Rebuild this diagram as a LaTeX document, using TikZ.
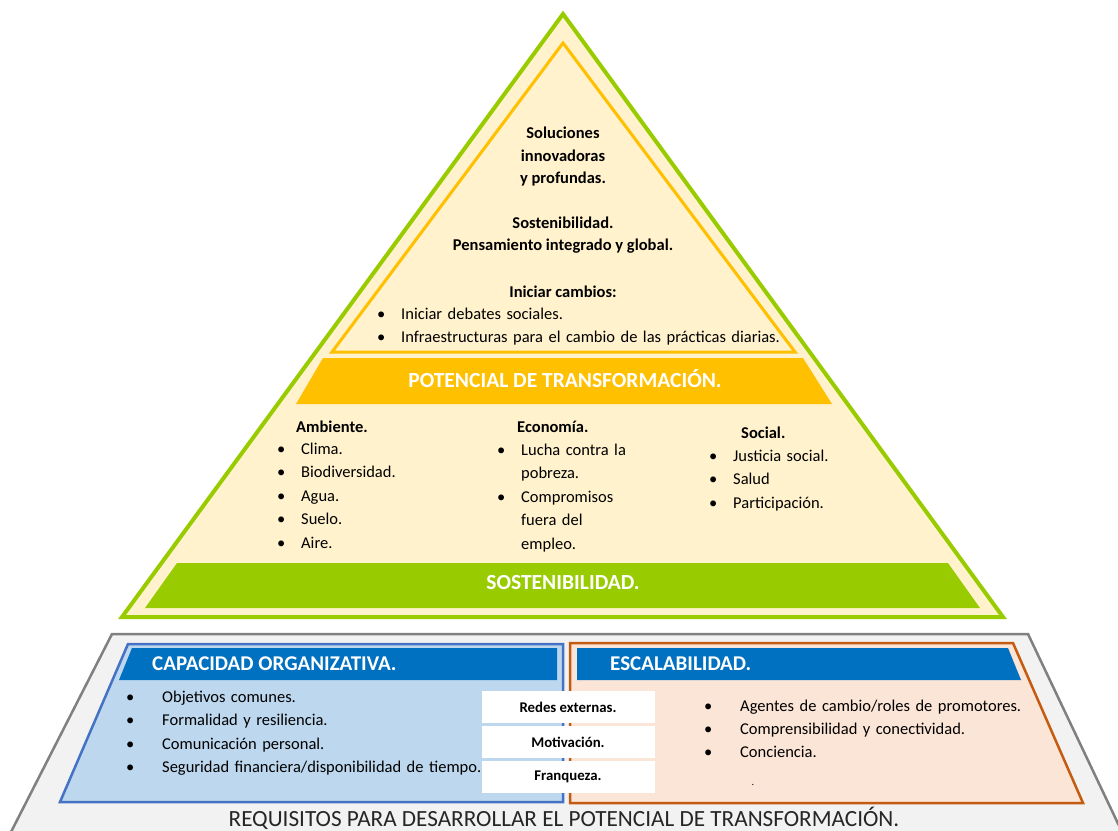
\documentclass[tikz,border=0pt]{standalone}
\usepackage{fontspec}
\setmainfont{Carlito}
\usetikzlibrary{positioning}

\definecolor{pgreen}{HTML}{99CC00}
\definecolor{porange}{HTML}{FFC000}
\definecolor{pcream}{HTML}{FFF2CC}
\definecolor{bfill}{HTML}{BDD7EE}
\definecolor{bline}{HTML}{4472C4}
\definecolor{bhead}{HTML}{0070C0}
\definecolor{ofill}{HTML}{FBE5D6}
\definecolor{oline}{HTML}{C55A11}
\definecolor{gfill}{HTML}{F2F2F2}
\definecolor{gline}{HTML}{808080}

\newcommand{\pxsize}[1]{\fontsize{#1}{#1}\selectfont}
\newcommand{\pbullet}{\makebox[24pt][l]{\textbullet}}
\newcommand{\pgap}{\makebox[24pt][l]{}}

\begin{document}
\begin{tikzpicture}[x=1pt, y=-1pt, every node/.style={inner sep=0pt},
  listitem/.style={text width=#1, align=left, text height=11pt, text depth=3pt, font=\pxsize{16.5}},
  headtext/.style={font=\pxsize{16.5}\bfseries},
  bandtext/.style={text=white, font=\pxsize{21.5}\bfseries},
  boxhead/.style={text=white, font=\pxsize{21}\bfseries, anchor=west},
  tagbox/.style={fill=white, minimum width=173pt, minimum height=32pt, font=\pxsize{14.8}\bfseries}]

\useasboundingbox (0,0) rectangle (1118,830);

% base: requisitos
\fill[gfill] (112,634) -- (1028,634) -- (1123,834) -- (10,834) -- cycle;
\draw[gline, line width=2.5pt] (11,832) -- (112,634) -- (1028,634) -- (1122,832);

\draw[bline, fill=bfill, line width=2.5pt] (128,644) -- (563,644) -- (563,802) -- (60,802) -- cycle;
\fill[bhead] (132,648) -- (557,648) -- (557,680) -- (119,680) -- cycle;
\draw[oline, fill=ofill, line width=2.5pt] (570,643) -- (1013,643) -- (1083,803) -- (570,803) -- cycle;
\fill[bhead] (577,648) -- (1008,648) -- (1021,680) -- (577,680) -- cycle;

\node(cap) [boxhead] at (152,664) {CAPACIDAD ORGANIZATIVA.};
\node(esc) [boxhead] at (610,664) {ESCALABILIDAD.};

\begin{scope}[on grid, node distance=23.5pt]
\node(c1) [listitem=360pt, anchor=west] at (126,698) {\makebox[36pt][l]{\textbullet}Objetivos comunes.};
\node(c2) [listitem=360pt, below=of c1] {\makebox[36pt][l]{\textbullet}Formalidad y resiliencia.};
\node(c3) [listitem=360pt, below=of c2] {\makebox[36pt][l]{\textbullet}Comunicación personal.};
\node(c4) [listitem=360pt, below=of c3] {\makebox[36pt][l]{\textbullet}Seguridad financiera/disponibilidad de tiempo.};
\end{scope}

\begin{scope}[on grid, node distance=23pt]
\node(e1) [listitem=320pt, anchor=west] at (704,707) {\makebox[36pt][l]{\textbullet}Agentes de cambio/roles de promotores.};
\node(e2) [listitem=320pt, below=of e1] {\makebox[36pt][l]{\textbullet}Comprensibilidad y conectividad.};
\node(e3) [listitem=320pt, below=of e2] {\makebox[36pt][l]{\textbullet}Conciencia.};
\end{scope}
\node(dot) [font=\pxsize{10}] at (753,785) {.};

\begin{scope}[on grid, node distance=35pt]
\node(r1) [tagbox] at (568,707) {Redes externas.};
\node(r2) [tagbox, below=of r1] {Motivación.};
\node(r3) [tagbox, below=of r2] {Franqueza.};
\end{scope}

\node(req) [font=\pxsize{23.2}, text=black!85] at (564,818) {REQUISITOS PARA DESARROLLAR EL POTENCIAL DE TRANSFORMACIÓN.};

% piramide
\draw[pgreen, line width=4pt, fill=pcream] (563,14) -- (1003,617) -- (122,617) -- cycle;
\draw[porange, line width=3pt] (563,43) -- (795,352) -- (332,352) -- cycle;
\fill[porange] (323,358) -- (803,358) -- (832,404) -- (296,404) -- cycle;
\fill[pgreen] (177,563) -- (948,563) -- (980,608) -- (145,608) -- cycle;

\node(pot) [bandtext] at (565,379) {POTENCIAL DE TRANSFORMACIÓN.};
\node(sos) [bandtext] at (563,583) {SOSTENIBILIDAD.};

\begin{scope}[on grid, node distance=23pt]
\node(s1) [headtext] at (563,133) {Soluciones};
\node(s2) [headtext, below=of s1] {innovadoras};
\node(s3) [headtext, below=of s2] {y profundas.};
\node(s4) [headtext] at (563,223) {Sostenibilidad.};
\node(s5) [headtext, below=of s4] {Pensamiento integrado y global.};
\node(s6) [headtext] at (563,292) {Iniciar cambios:};
\node(i1) [listitem=420pt, anchor=west] at (377,315) {\pbullet Iniciar debates sociales.};
\node(i2) [listitem=420pt, below=of i1] {\pbullet Infraestructuras para el cambio de las prácticas diarias.};
\end{scope}

\begin{scope}[on grid, node distance=23.6pt]
\node(amb) [headtext, anchor=west] at (296,427) {Ambiente.};
\node(a1) [listitem=180pt, anchor=west] at (277,450) {\pbullet Clima.};
\node(a2) [listitem=180pt, below=of a1] {\pbullet Biodiversidad.};
\node(a3) [listitem=180pt, below=of a2] {\pbullet Agua.};
\node(a4) [listitem=180pt, below=of a3] {\pbullet Suelo.};
\node(a5) [listitem=180pt, below=of a4] {\pbullet Aire.};

\node(eco) [headtext, anchor=west] at (517,427) {Economía.};
\node(k1) [listitem=180pt, anchor=west] at (497,451) {\pbullet Lucha contra la};
\node(k2) [listitem=180pt, below=of k1] {\pgap pobreza.};
\node(k3) [listitem=180pt, below=of k2] {\pbullet Compromisos};
\node(k4) [listitem=180pt, below=of k3] {\pgap fuera del};
\node(k5) [listitem=180pt, below=of k4] {\pgap empleo.};

\node(soc) [headtext, anchor=west] at (741,433) {Social.};
\node(o1) [listitem=180pt, anchor=west] at (709,457) {\pbullet Justicia social.};
\node(o2) [listitem=180pt, below=of o1] {\pbullet Salud};
\node(o3) [listitem=180pt, below=of o2] {\pbullet Participación.};
\end{scope}

\end{tikzpicture}
\end{document}
